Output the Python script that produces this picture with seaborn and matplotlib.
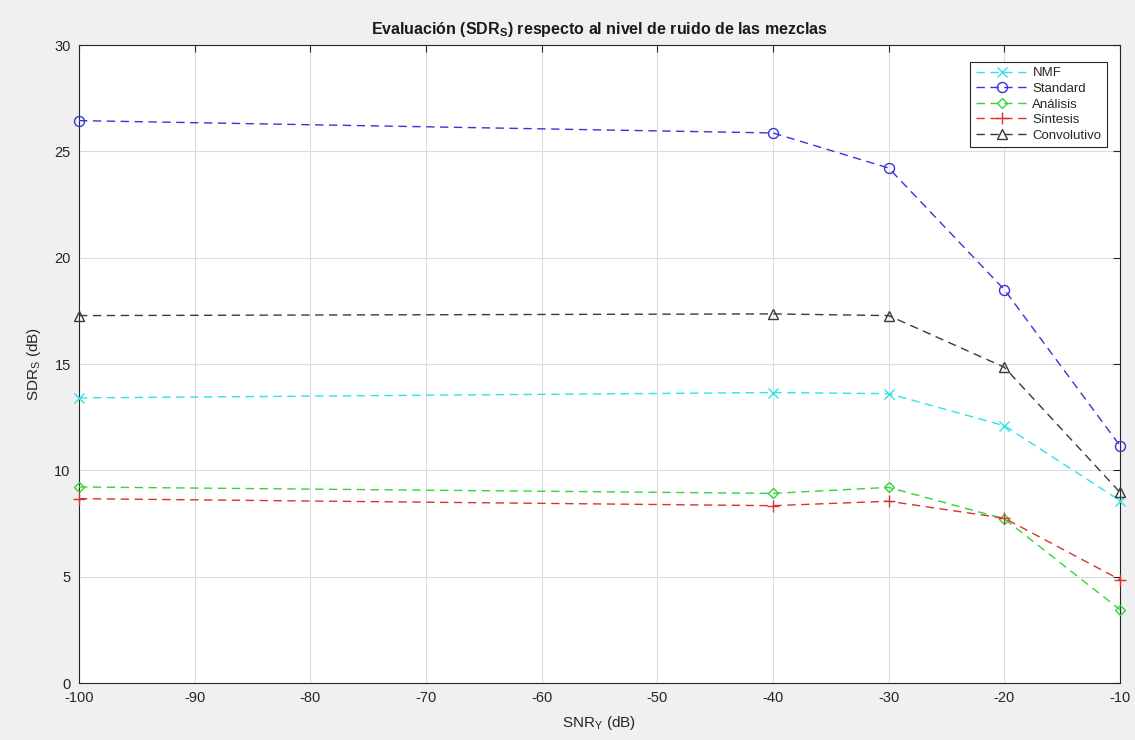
import matplotlib
matplotlib.use("Agg")
import matplotlib.pyplot as plt
import seaborn as sns
import pandas as pd

snr = [-100, -40, -30, -20, -10]
nmf = [13.41, 13.66, 13.61, 12.10, 8.58]
standard = [26.45, 25.87, 24.22, 18.50, 11.16]
analisis = [9.22, 8.92, 9.20, 7.72, 3.45]
sintesis = [8.67, 8.34, 8.55, 7.75, 4.86]
convolutivo = [17.28, 17.36, 17.28, 14.85, 8.97]

names = ["NMF", "Standard", "Análisis", "Síntesis", "Convolutivo"]
series = [nmf, standard, analisis, sintesis, convolutivo]
colors = ["#2fe3e6", "#3535d8", "#33d633", "#d83232", "#3a3a3a"]
markers = ["x", "o", "D", "+", "^"]
msizes = [6.5, 7.2, 5.6, 8, 6.8]

xticks = list(range(-100, 0, 10))
yticks = list(range(0, 31, 5))

sns.set_theme(style="white")
plt.rcParams["font.family"] = ["Liberation Sans", "DejaVu Sans"]
plt.rcParams["mathtext.fontset"] = "custom"
plt.rcParams["mathtext.rm"] = "Liberation Sans"
plt.rcParams["mathtext.bf"] = "Liberation Sans:bold"
plt.rcParams["axes.unicode_minus"] = False

fig = plt.figure(figsize=(11.35, 7.4), dpi=100, facecolor="#f0f0f0")
ax = fig.add_axes([0.0696, 0.077, 0.9172, 0.862])
ax.set_facecolor("white")

for name, vals, c, m, ms in zip(names, series, colors, markers, msizes):
    df = pd.DataFrame({"x": snr, "y": vals})
    sns.lineplot(data=df, x="x", y="y", ax=ax, color=c, linestyle=(0, (6, 4)),
                 linewidth=1.0, marker=m, markersize=ms, markerfacecolor="none",
                 markeredgecolor=c, markeredgewidth=1.0, label=name, clip_on=False)

ax.set_xlim(-100, -10)
ax.set_ylim(0, 30)
ax.set_xticks(xticks)
ax.set_yticks(yticks)
ax.grid(True, color="#dcdcdc", linewidth=0.8)
ax.set_axisbelow(True)
ax.tick_params(direction="in", length=5, width=0.8, colors="#262626",
               labelsize=10.5, top=True, right=True, labelcolor="#262626", pad=6)
for s in ax.spines.values():
    s.set_color("#262626")
    s.set_linewidth(0.8)
    s.set_zorder(1)

ax.set_title(r"Evaluación (SDR$_\mathbf{S}$) respecto al nivel de ruido de las mezclas",
             fontsize=11.5, fontweight="bold", color="#1a1a1a", pad=8)
ax.set_xlabel(r"SNR$_\mathregular{Y}$ (dB)", fontsize=11, color="#262626", labelpad=6)
ax.set_ylabel(r"SDR$_\mathregular{S}$ (dB)", fontsize=11, color="#262626", labelpad=8)

leg = ax.legend(loc="upper right", bbox_to_anchor=(0.9935, 0.984), fontsize=9.5,
                handlelength=4.0, handletextpad=0.3, labelspacing=0.25,
                borderpad=0.4, fancybox=False, framealpha=1, edgecolor="#262626")
leg.get_frame().set_linewidth(0.8)
leg.set_zorder(5)

fig.savefig("out.png", dpi=100, facecolor=fig.get_facecolor())
